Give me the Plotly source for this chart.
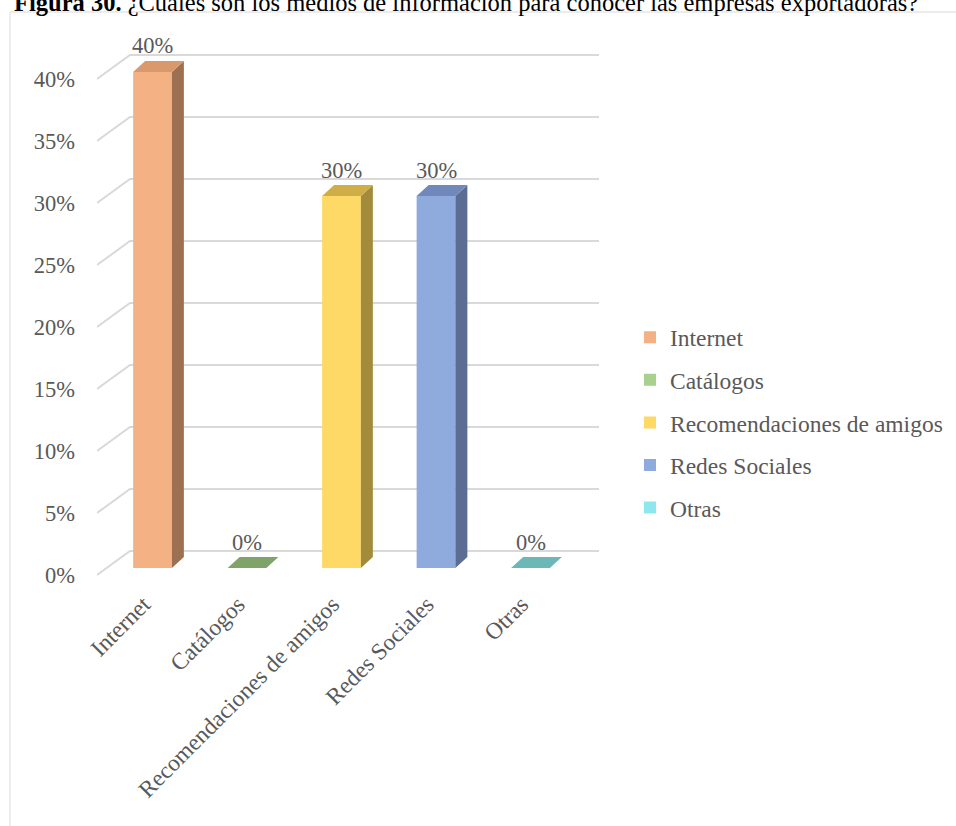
import plotly.graph_objects as go

# ---------------- data ----------------
categories = ["Internet", "Catálogos", "Recomendaciones de amigos", "Redes Sociales", "Otras"]
values = [0.40, 0.00, 0.30, 0.30, 0.00]
value_labels = ["40%", "0%", "30%", "30%", "0%"]
y_ticks = [0.0, 0.05, 0.10, 0.15, 0.20, 0.25, 0.30, 0.35, 0.40]
y_tick_labels = ["0%", "5%", "10%", "15%", "20%", "25%", "30%", "35%", "40%"]
title_bold = "Figura 30."
title_rest = " ¿Cuáles son los medios de información para conocer las empresas exportadoras?"

# ---------------- styles ----------------
front_colors = ["#F4B183", "#A9D18E", "#FFD966", "#8FAADC", "#8CE8EE"]
top_colors = ["#D9996D", "#80A36A", "#CFAE48", "#7089BA", "#6CB8B6"]
side_colors = ["#9C7051", "#6E8A59", "#A38B3C", "#5B6D92", "#5A9A98"]
TEXT = "#595959"
GRID = "#D9D9D9"
FONT = "Liberation Serif"

W, H = 956, 826
# pixel geometry of the front plane
X0_PX, PX_PER_X = 152.5, 94.5     # pixel of category 0, pixels per category
Y0_PX, PX_PER_Y = 568.0, 1240.0   # pixel of value 0, pixels per unit value
XL_PX, XR_PX = 97, 610            # plot area horizontal extent
YT_PX, YB_PX = 25, 585            # plot area vertical extent
BAR_W = 0.41
DEPTH_X, DEPTH_Y = 12, 11         # pseudo-3D depth offsets in pixels


def xd(px):
    return (px - X0_PX) / PX_PER_X


def dxd(p):
    return p / PX_PER_X


def dyd(p):
    return p / PX_PER_Y


fig = go.Figure()

for i, (cat, v) in enumerate(zip(categories, values)):
    fig.add_trace(go.Bar(
        x=[i], y=[v], width=BAR_W, name=cat, legendgroup=cat,
        marker=dict(color=front_colors[i], line=dict(width=0)),
        hoverinfo="skip",
    ))

shapes = []
# back-wall gridlines with the side-wall diagonal
for t in y_ticks:
    path = (f"M {xd(97)},{t + dyd(-7)} L {xd(130)},{t + dyd(17)} "
            f"L {xd(599)},{t + dyd(17)}")
    shapes.append(dict(type="path", xref="x", yref="y", path=path,
                       line=dict(color=GRID, width=2), layer="below"))

# pseudo-3D top and side faces
for i, v in enumerate(values):
    xl = i - BAR_W / 2
    xr = i + BAR_W / 2
    ddx, ddy = dxd(DEPTH_X), dyd(DEPTH_Y)
    if v > 0:
        side = (f"M {xr},{v} L {xr + ddx},{v + ddy} L {xr + ddx},{ddy} "
                f"L {xr},0 Z")
        shapes.append(dict(type="path", xref="x", yref="y", path=side,
                           fillcolor=side_colors[i], line=dict(width=0), layer="above"))
    top = (f"M {xl},{v} L {xl + ddx},{v + ddy} L {xr + ddx},{v + ddy} "
           f"L {xr},{v} Z")
    shapes.append(dict(type="path", xref="x", yref="y", path=top,
                       fillcolor=top_colors[i], line=dict(width=0), layer="above"))

# outer border of the chart area
shapes.append(dict(type="rect", xref="paper", yref="paper",
                   x0=10 / W, x1=1.01, y0=-0.01, y1=1 - 12 / H,
                   line=dict(color=GRID, width=1), layer="below"))

annotations = []
for i, (v, lab) in enumerate(zip(values, value_labels)):
    annotations.append(dict(x=i, y=v, xref="x", yref="y", text=lab,
                            showarrow=False, yshift=26, yanchor="middle",
                            font=dict(family=FONT, size=22.5, color=TEXT)))

annotations.append(dict(
    x=12 / W, y=1 - 2 / H, xref="paper", yref="paper", xanchor="left", yanchor="middle",
    text=f"<b>{title_bold}</b>{title_rest}", showarrow=False,
    font=dict(family=FONT, size=24.5, color="#000000"),
))

fig.update_layout(
    width=W, height=H, autosize=False,
    margin=dict(l=0, r=0, t=0, b=0, pad=0),
    paper_bgcolor="white", plot_bgcolor="white",
    font=dict(family=FONT, size=23, color=TEXT),
    barmode="overlay",
    shapes=shapes, annotations=annotations,
    showlegend=True,
    legend=dict(
        x=630 / W, y=1 - 422.5 / H, xanchor="left", yanchor="middle",
        font=dict(family=FONT, size=23.5, color=TEXT),
        tracegroupgap=9, bgcolor="rgba(0,0,0,0)",
    ),
    xaxis=dict(
        domain=[XL_PX / W, XR_PX / W],
        range=[xd(XL_PX), xd(XR_PX)],
        tickvals=list(range(len(categories))), ticktext=categories,
        tickangle=-45, showgrid=False, zeroline=False, showline=False,
        ticks="", ticklabelstandoff=0, ticklabelshift=-9,
        tickfont=dict(family=FONT, size=23.5, color=TEXT), automargin=False,
        fixedrange=True,
    ),
    yaxis=dict(
        domain=[1 - YB_PX / H, 1 - YT_PX / H],
        range=[(Y0_PX - YB_PX) / PX_PER_Y, (Y0_PX - YT_PX) / PX_PER_Y],
        tickvals=y_ticks, ticktext=y_tick_labels,
        showgrid=False, zeroline=False, showline=False,
        ticks="", ticklabelstandoff=21, ticklabelshift=7,
        tickfont=dict(family=FONT, size=22.5, color=TEXT), automargin=False,
        fixedrange=True,
    ),
)

fig.write_html("out.html")
